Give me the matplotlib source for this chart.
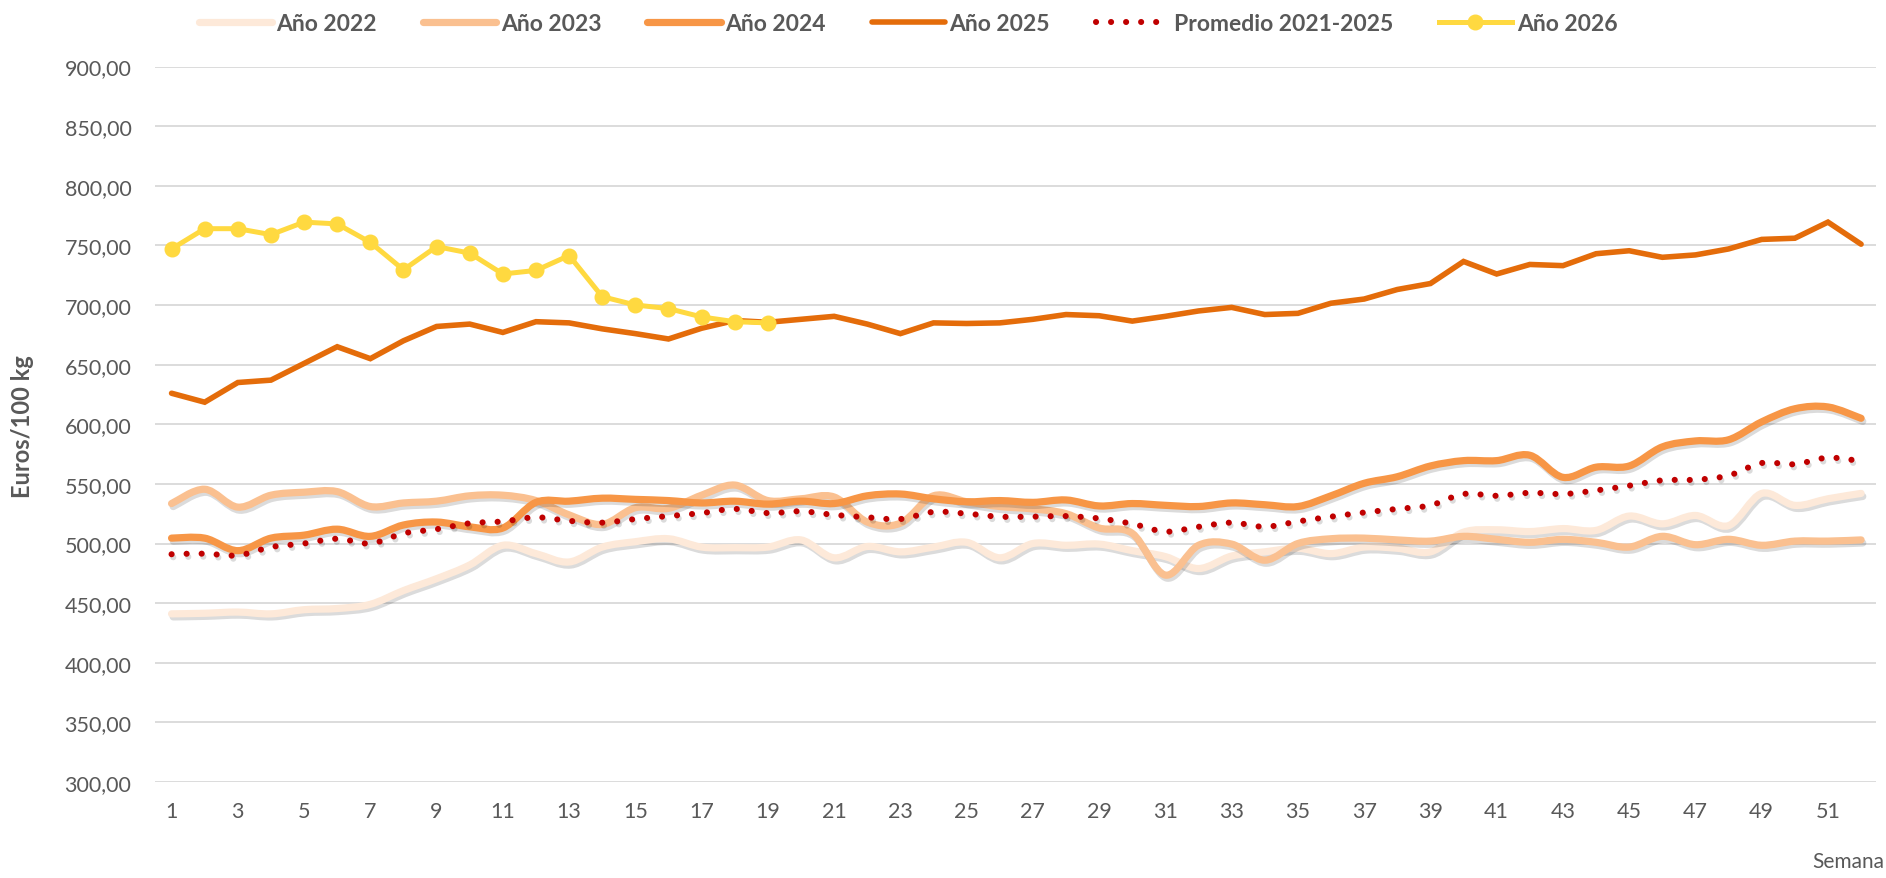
import numpy as np
import matplotlib
matplotlib.use("Agg")
import matplotlib.pyplot as plt
import matplotlib.ticker as ticker
import matplotlib.patheffects as pe
from matplotlib.path import Path
from matplotlib.patches import PathPatch
from matplotlib.lines import Line2D

plt.rcParams["font.family"] = ["Lato", "DejaVu Sans"]
grey = "#595959"

weeks = list(range(1, 53))

# precios semanales, euros/100 kg
y2022 = [441, 441.5, 442.5, 441, 444.5, 445.5, 449, 460.5, 470.5, 482, 498.5, 491.5, 484.5,
         497, 501.5, 504, 497, 496.5, 497, 503, 488, 497.5, 493, 497, 501, 488,
         500, 498.5, 499.5, 494, 489, 479, 489.5, 493, 496, 491.5, 497, 496, 493,
         509.5, 511.5, 510, 512.5, 511, 523, 516.5, 523.5, 515, 542, 532, 537.5, 542]
y2023 = [533.5, 545.5, 530.5, 540.5, 543, 543.5, 531, 534, 535.5, 540, 540.5, 536, 524,
         516, 530, 529.5, 540.5, 549, 536, 537.5, 539, 518, 517, 540, 535, 531,
         529, 525, 513, 508.5, 473.5, 498.5, 499.5, 486, 500, 504, 504.5, 503, 502,
         506, 503.5, 501, 503.5, 501, 497, 506, 499, 503.5, 498.5, 502, 502, 503]
y2024 = [504.5, 504.5, 494, 504.5, 507, 512, 506, 515.5, 518, 514, 513, 534.5, 535.5,
         538, 537, 536, 534, 535.5, 533, 535.5, 533.5, 540, 541.5, 537.5, 535, 536,
         534.5, 536.5, 531.5, 533.5, 532, 531, 534, 532.5, 531, 540, 550.5, 556, 565,
         569.5, 569.5, 574, 555.5, 564, 565, 581, 586, 587, 602, 613, 614.5, 605]
y2025 = [626, 618.5, 635, 637, 651, 665, 655, 670, 682, 684, 677, 686, 685,
         680, 676, 671.5, 680.5, 687, 685.5, 688, 690.5, 684, 676, 685, 684.5, 685,
         688, 692, 691, 686.5, 690.5, 695, 698, 692, 693, 701.5, 705, 713, 718,
         736.5, 726, 734, 733, 743, 745.5, 740, 742, 747, 755, 756, 769.5, 751]
promedio = [491, 491.5, 490, 497, 500, 504, 500, 508.5, 512, 517, 518.5, 522, 519,
            517.5, 520.5, 523, 525.5, 529, 525.5, 527, 524, 522, 520.5, 526.5, 525, 522.5,
            522.5, 523, 521, 516.5, 510, 514, 517.5, 514, 518.5, 522.5, 526, 529, 532,
            541.5, 540, 542.5, 541.5, 544.5, 548.5, 553, 553.5, 557, 567.5, 566.5, 572, 569]
weeks2026 = list(range(1, 20))
y2026 = [747, 764, 764, 759, 769.5, 768, 752.5, 729.5, 749, 743.5, 726, 729, 741.5,
         707, 700, 697, 690, 686, 685]

c2022, c2023, c2024, c2025 = "#FDE9D9", "#FAC090", "#F79646", "#E46C0A"
cprom, c2026 = "#C00000", "#FFD940"


def smooth_path(x, y):
    # curva suavizada tipo Excel (Catmull-Rom -> Bezier) que pasa por los puntos
    p = np.column_stack([x, y]).astype(float)
    pts = [p[0]]
    codes = [Path.MOVETO]
    n = len(p)
    for i in range(n - 1):
        p0 = p[i - 1] if i > 0 else p[i]
        p3 = p[i + 2] if i + 2 < n else p[i + 1]
        c1 = p[i] + (p[i + 1] - p0) / 6
        c2 = p[i + 1] - (p3 - p[i]) / 6
        pts += [c1, c2, p[i + 1]]
        codes += [Path.CURVE4] * 3
    return Path(pts, codes)


shadow = [pe.SimpleLineShadow(offset=(1.2, -2.2), shadow_color="black", alpha=0.14), pe.Normal()]

fig = plt.figure(figsize=(18.86, 8.79), dpi=100)
ax = fig.add_axes([155 / 1886, 1 - 783 / 879, (1876 - 155) / 1886, (783 - 67.5) / 879])

for yy, col in [(y2022, c2022), (y2023, c2023), (y2024, c2024)]:
    ax.add_patch(PathPatch(smooth_path(weeks, yy), fill=False, edgecolor=col, lw=5.2,
                           capstyle="round", joinstyle="round", path_effects=shadow, zorder=3))

ax.plot(weeks, y2025, color=c2025, lw=4, solid_capstyle="round", solid_joinstyle="miter", zorder=4)

ax.add_patch(PathPatch(smooth_path(weeks, promedio), fill=False, edgecolor=cprom, lw=4.4,
                       linestyle=(0, (0.01, 2.45)), capstyle="round", path_effects=shadow, zorder=5))

ax.plot(weeks2026, y2026, color=c2026, lw=3.6, marker="o", markersize=10.5, zorder=6)

ax.set_xlim(0.5, 52.45)
ax.set_ylim(300, 900)
ax.yaxis.set_major_locator(ticker.MultipleLocator(50))
ax.yaxis.set_major_formatter(ticker.FuncFormatter(lambda v, p: f"{v:.2f}".replace(".", ",")))
ax.set_xticks(weeks[::2])
ax.grid(axis="y", color="#D9D9D9", lw=1.3)
ax.set_axisbelow(True)
for s in ax.spines.values():
    s.set_visible(False)
ax.tick_params(axis="y", length=0, pad=17, labelsize=15.5, labelcolor=grey)
ax.tick_params(axis="x", length=0, pad=14, labelsize=15.5, labelcolor=grey)

fig.text(22 / 1886, 1 - 427 / 879, "Euros/100 kg", rotation=90, ha="center", va="center",
         fontsize=17, fontweight="bold", color=grey)
fig.text(0.999, 0.008, "Semana", ha="right", va="bottom", fontsize=15, color=grey)

handles = [
    Line2D([], [], color=c2022, lw=5.2, solid_capstyle="round"),
    Line2D([], [], color=c2023, lw=5.2, solid_capstyle="round"),
    Line2D([], [], color=c2024, lw=5.2, solid_capstyle="round"),
    Line2D([], [], color=c2025, lw=4, solid_capstyle="round"),
    Line2D([], [], color=cprom, lw=4.4, linestyle=(0, (0.01, 2.45)), dash_capstyle="round"),
    Line2D([], [], color=c2026, lw=3.6, marker="o", markersize=10.5),
]
labels = ["Año 2022", "Año 2023", "Año 2024", "Año 2025", "Promedio 2021-2025", "Año 2026"]
leg = fig.legend(handles, labels, loc="upper center", bbox_to_anchor=(908 / 1886, 1.008), ncol=6,
                 frameon=False, handlelength=3.2, handletextpad=0.2, columnspacing=2.0,
                 prop={"size": 16.5, "weight": "bold"})
for t in leg.get_texts():
    t.set_color(grey)

plt.savefig("out.png", dpi=100)
